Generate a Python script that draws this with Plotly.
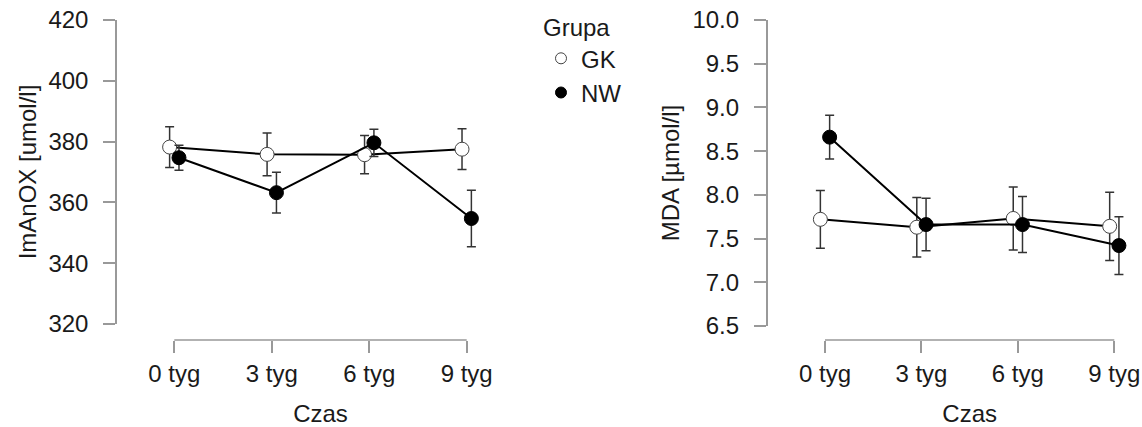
import plotly.graph_objects as go

# ---- data ----
weeks = ["0 tyg", "3 tyg", "6 tyg", "9 tyg"]
groups = ["GK", "NW"]

imanox_gk = [378.2, 375.8, 375.7, 377.5]
imanox_gk_err = [6.7, 7.0, 6.3, 6.7]
imanox_nw = [374.7, 363.2, 379.6, 354.7]
imanox_nw_err = [4.1, 6.7, 4.5, 9.3]

mda_gk = [7.72, 7.63, 7.73, 7.64]
mda_gk_err = [0.33, 0.34, 0.36, 0.39]
mda_nw = [8.66, 7.66, 7.66, 7.42]
mda_nw_err = [0.25, 0.30, 0.32, 0.33]

left_yticks = [320, 340, 360, 380, 400, 420]
right_yticks = [6.5, 7.0, 7.5, 8.0, 8.5, 9.0, 9.5, 10.0]

# ---- layout helpers ----
W, H = 1142, 427
FONT = "Liberation Sans, Arial, sans-serif"
FS = 24
AXC = "#999999"
TXT = "#1a1a1a"
dodge = 0.048
idx = list(range(len(weeks)))
pad = 0.2


def px_x(p):
    return p / W


def px_y(p):
    return (H - p) / H


def x_domain(first_tick_px, last_tick_px):
    unit = (last_tick_px - first_tick_px) / (len(weeks) - 1)
    return [px_x(first_tick_px - pad * unit), px_x(last_tick_px + pad * unit)]


fig = go.Figure()

styles = {
    "GK": dict(color="white", line=dict(color="#444444", width=1)),
    "NW": dict(color="black", line=dict(color="black", width=1)),
}
offsets = {"GK": -dodge, "NW": dodge}

panels = [
    ("x", "y", {"GK": (imanox_gk, imanox_gk_err), "NW": (imanox_nw, imanox_nw_err)}),
    ("x2", "y2", {"GK": (mda_gk, mda_gk_err), "NW": (mda_nw, mda_nw_err)}),
]

for xa, ya, series in panels:
    for g in groups:
        vals, errs = series[g]
        fig.add_trace(go.Scatter(
            x=[i + offsets[g] for i in idx], y=vals,
            mode="lines+markers",
            line=dict(color="black", width=2),
            marker=dict(size=14, symbol="circle", **styles[g]),
            error_y=dict(type="data", array=errs, visible=True,
                         color="#333333", thickness=1.5, width=4.5),
            xaxis=xa, yaxis=ya, showlegend=False, cliponaxis=False,
            name=g,
        ))

# legend entries
for g in groups:
    fig.add_trace(go.Scatter(
        x=[None], y=[None], mode="markers", name=g,
        marker=dict(size=11, symbol="circle", **styles[g]),
        xaxis="x", yaxis="y", showlegend=True,
    ))

x_pos = px_y(340)
common_x = dict(
    tickmode="array", tickvals=idx, ticktext=weeks, range=[-pad, len(weeks) - 1 + pad],
    showline=False, showgrid=False, zeroline=False, ticks="outside", ticklen=12,
    tickwidth=1.5, tickcolor=AXC, anchor="free", position=x_pos, automargin=False,
    tickfont=dict(family=FONT, size=FS, color=TXT), ticklabelstandoff=0,
    title=dict(text="Czas", font=dict(family=FONT, size=FS, color=TXT), standoff=21),
)
common_y = dict(
    showline=True, linecolor=AXC, linewidth=1.5, showgrid=False, zeroline=False,
    ticks="outside", ticklen=12, tickwidth=1.5, tickcolor=AXC, anchor="free",
    automargin=False, ticklabelstandoff=10,
    tickfont=dict(family=FONT, size=FS, color=TXT),
)

fig.update_layout(
    width=W, height=H,
    margin=dict(l=0, r=0, t=0, b=0),
    paper_bgcolor="white", plot_bgcolor="white",
    font=dict(family=FONT, size=FS, color=TXT),
    xaxis=dict(common_x, domain=x_domain(174.3, 466.7)),
    xaxis2=dict(common_x, domain=x_domain(825.0, 1114.3)),
    yaxis=dict(common_y, domain=[px_y(324), px_y(20)], range=[320, 420],
               tickvals=left_yticks, position=px_x(116),
               title=dict(text="ImAnOX [umol/l]", font=dict(family=FONT, size=FS, color=TXT), standoff=4)),
    yaxis2=dict(common_y, domain=[px_y(326), px_y(20)], range=[6.5, 10],
                tickvals=right_yticks, tickformat=".1f", position=px_x(766.7),
                title=dict(text="MDA [µmol/l]", font=dict(family=FONT, size=FS, color=TXT), standoff=5)),
    legend=dict(
        title=dict(text="Grupa", font=dict(family=FONT, size=FS, color=TXT)),
        x=px_x(541), y=px_y(5), xanchor="left", yanchor="top",
        font=dict(family=FONT, size=FS, color=TXT), bgcolor="rgba(0,0,0,0)",
    ),
    shapes=[
        dict(type="line", xref="x", yref="paper", x0=0, x1=len(weeks) - 1,
             y0=x_pos, y1=x_pos, line=dict(color=AXC, width=1.5)),
        dict(type="line", xref="x2", yref="paper", x0=0, x1=len(weeks) - 1,
             y0=x_pos, y1=x_pos, line=dict(color=AXC, width=1.5)),
    ],
)

fig.write_html("out.html", config={"displayModeBar": False},
               post_script="document.body.style.margin='0';document.body.style.padding='0';")
